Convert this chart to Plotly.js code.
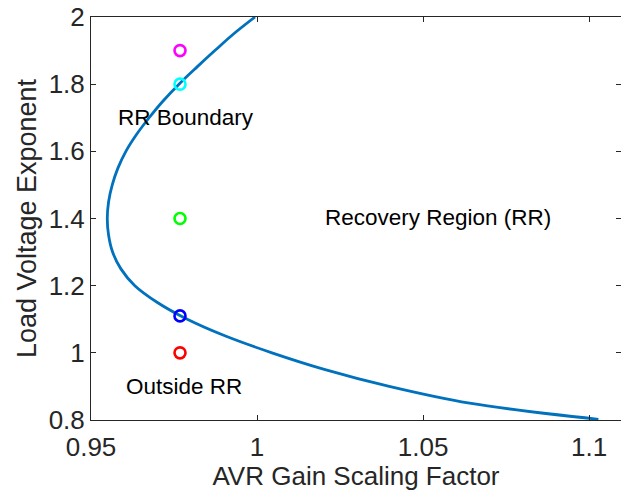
<!DOCTYPE html>
<html>
<head>
<meta charset="utf-8">
<script src="https://cdn.plot.ly/plotly-3.0.1.min.js"></script>
<style>html,body{margin:0;padding:0;background:#fff;}#chart{width:621px;height:491px;}</style>
</head>
<body>
<div id="chart"></div>
<script>
// RR boundary curve, top to bottom
const boundaryGain = [0.9994, 0.9930, 0.9873, 0.9818, 0.9765, 0.9717, 0.9675, 0.9637, 0.9605, 0.9581, 0.9564, 0.9553, 0.9549, 0.9553, 0.9565, 0.9590, 0.9632, 0.9700, 0.9790, 0.9905, 1.0045, 1.0205, 1.0398, 1.0640, 1.1028];
const boundaryExp  = [2.00,   1.95,   1.90,   1.85,   1.80,   1.75,   1.70,   1.65,   1.60,   1.55,   1.50,   1.45,   1.40,   1.35,   1.30,   1.25,   1.20,   1.15,   1.10,   1.05,   1.00,   0.95,   0.90,   0.85,   0.802];

// Test points
const pointGain   = [0.9768, 0.9768, 0.9768, 0.9768, 0.9768];
const pointExp    = [1.9, 1.8, 1.4, 1.11, 1.0];
const pointColors = ['#FF00FF', '#00FFFF', '#00FF00', '#0000FF', '#FF0000'];

// Labels
const labelText = ['RR Boundary', 'Recovery Region (RR)', 'Outside RR'];
const labelGain = [0.9786, 1.0546, 0.978];
const labelExp  = [1.70, 1.403, 0.899];

const xTicks = [0.95, 1, 1.05, 1.1];
const xTickText = ['0.95', '1', '1.05', '1.1'];
const yTicks = [0.8, 1, 1.2, 1.4, 1.6, 1.8, 2];
const yTickText = ['0.8', '1', '1.2', '1.4', '1.6', '1.8', '2'];

const FONT = 'Liberation Sans, Arial, Helvetica, sans-serif';

const traces = [
  {
    x: boundaryGain, y: boundaryExp, type: 'scatter', mode: 'lines',
    line: {color: '#0072BD', width: 2.8, shape: 'spline', smoothing: 1},
    hoverinfo: 'skip', showlegend: false
  }
];
pointGain.forEach((g, i) => {
  traces.push({
    x: [g], y: [pointExp[i]], type: 'scatter', mode: 'markers',
    marker: {symbol: 'circle-open', size: 11, color: pointColors[i], line: {width: 2.6, color: pointColors[i]}},
    showlegend: false
  });
});

const annotations = labelText.map((t, i) => ({
  x: labelGain[i], y: labelExp[i], xref: 'x', yref: 'y', text: t,
  showarrow: false, xanchor: 'center', yanchor: 'middle',
  font: {family: FONT, size: 22.5, color: '#000000'}
}));

const axisCommon = {
  showline: true, mirror: 'ticks', linecolor: '#262626', linewidth: 1,
  ticks: 'inside', ticklen: 5, tickwidth: 1, tickcolor: '#262626',
  showgrid: false, zeroline: false,
  tickfont: {family: FONT, size: 26, color: '#262626'},
  tickmode: 'array'
};

const layout = {
  width: 621, height: 491,
  margin: {l: 91, r: 0, t: 17, b: 71},
  paper_bgcolor: '#ffffff', plot_bgcolor: '#ffffff',
  showlegend: false,
  xaxis: Object.assign({}, axisCommon, {
    range: [0.95, 1.1096], tickvals: xTicks, ticktext: xTickText,
    ticklabelstandoff: 4,
    title: {text: 'AVR Gain Scaling Factor', font: {family: FONT, size: 26, color: '#262626'}, standoff: 0}
  }),
  yaxis: Object.assign({}, axisCommon, {
    range: [0.8, 2], tickvals: yTicks, ticktext: yTickText,
    title: {text: 'Load Voltage Exponent', font: {family: FONT, size: 27, color: '#262626'}, standoff: 4}
  }),
  annotations: annotations
};

Plotly.newPlot('chart', traces, layout, {displayModeBar: false, staticPlot: true});
</script>
</body>
</html>
